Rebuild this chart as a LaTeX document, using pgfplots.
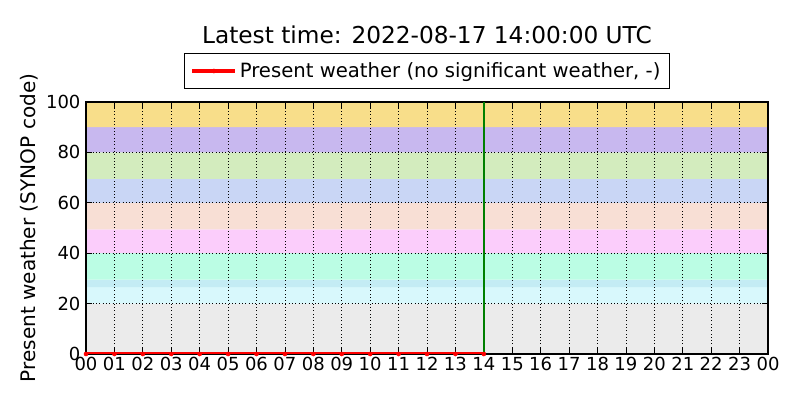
\documentclass[border=0pt]{standalone}
\usepackage{pgfplots}
\pgfplotsset{compat=1.18}
\usepackage{fontspec}
\setmainfont{DejaVu Sans}
\setsansfont{DejaVu Sans}

\definecolor{bgray}{HTML}{EBEBEB}
\definecolor{bcyanA}{HTML}{D8F8FC}
\definecolor{bcyanB}{HTML}{C4ECF4}
\definecolor{bmint}{HTML}{BBFDE4}
\definecolor{bpink}{HTML}{FBCDFB}
\definecolor{bpeach}{HTML}{F8DFD5}
\definecolor{bblue}{HTML}{C9D6F5}
\definecolor{bgreen}{HTML}{D3ECBE}
\definecolor{blav}{HTML}{C8B8EF}
\definecolor{byellow}{HTML}{F8DE8A}
\definecolor{nowgreen}{HTML}{008000}

% weather code band: colour, lower, upper
\newcommand{\band}[3]{%
  \addplot[draw=none, fill=#1, forget plot, on layer=axis background]
    coordinates {(0,#2) (24,#2) (24,#3) (0,#3) (0,#2)};}

\begin{document}
\begin{tikzpicture}
\begin{axis}[
    set layers,
    at={(61.92bp,33.12bp)}, anchor=south west,
    scale only axis,
    width=491.04bp, height=181.44bp,
    xmin=0, xmax=24, ymin=0, ymax=100,
    xtick={0,1,...,24},
    xticklabels={00,01,02,03,04,05,06,07,08,09,10,11,12,13,14,15,16,17,18,19,20,21,22,23,00},
    ytick={0,20,40,60,80,100},
    tick align=inside,
    major tick length=4bp,
    tick style={black, line width=0.6pt},
    grid=major,
    grid style={black, dotted, line width=0.5pt},
    axis line style={black, line width=0.8pt},
    ticklabel style={font=\fontsize{13}{15}\selectfont},
    /pgf/number format/assume math mode=true,
    xticklabel style={yshift=1bp},
    yticklabel style={xshift=-0.5bp},
    ylabel={Present weather (SYNOP code)},
    ylabel style={font=\fontsize{14.5}{16}\selectfont, yshift=-1bp},
    title={Latest time: 2022-08-17 14:00:00 UTC},
    title style={font=\fontsize{16.8}{19}\selectfont, at={(0.5,1)}, anchor=base, yshift=36.5bp},
    legend style={at={(0.5,1)}, anchor=south, yshift=9.4bp,
        font=\fontsize{14.2}{16}\selectfont, draw=black, line width=0.6pt,
        inner xsep=4.5bp, inner ysep=4.5bp},
    legend cell align=left,
    legend image code/.code={%
        \draw[#1, mark=none] (0bp,0bp) -- (31bp,0bp);
        \draw[#1, only marks] plot coordinates {(15.5bp,0bp)};},
]
\band{bgray}{0}{20}
\band{bcyanA}{20}{26.5}
\band{bcyanB}{26.5}{29.5}
\band{bmint}{29.5}{40}
\band{bpink}{40}{49.5}
\band{bpeach}{49.5}{60}
\band{bblue}{60}{69.5}
\band{bgreen}{69.5}{80}
\band{blav}{80}{90}
\band{byellow}{90}{100}

\addplot[red, line width=2.3bp, mark=*, mark size=1.5bp, mark options={solid, line width=0.3bp}]
  coordinates {(0,0) (1,0) (2,0) (3,0) (4,0) (5,0) (6,0) (7,0) (8,0) (9,0) (10,0) (11,0) (12,0) (13,0) (14,0)};
\addlegendentry{Present weather (no significant weather, -)}

\addplot[nowgreen, line width=1.1bp, forget plot]
  coordinates {(14,0) (14,100)};
\end{axis}
\pgfresetboundingbox
\path[use as bounding box] (0bp,0bp) rectangle (576bp,288bp);
\end{tikzpicture}
\end{document}
